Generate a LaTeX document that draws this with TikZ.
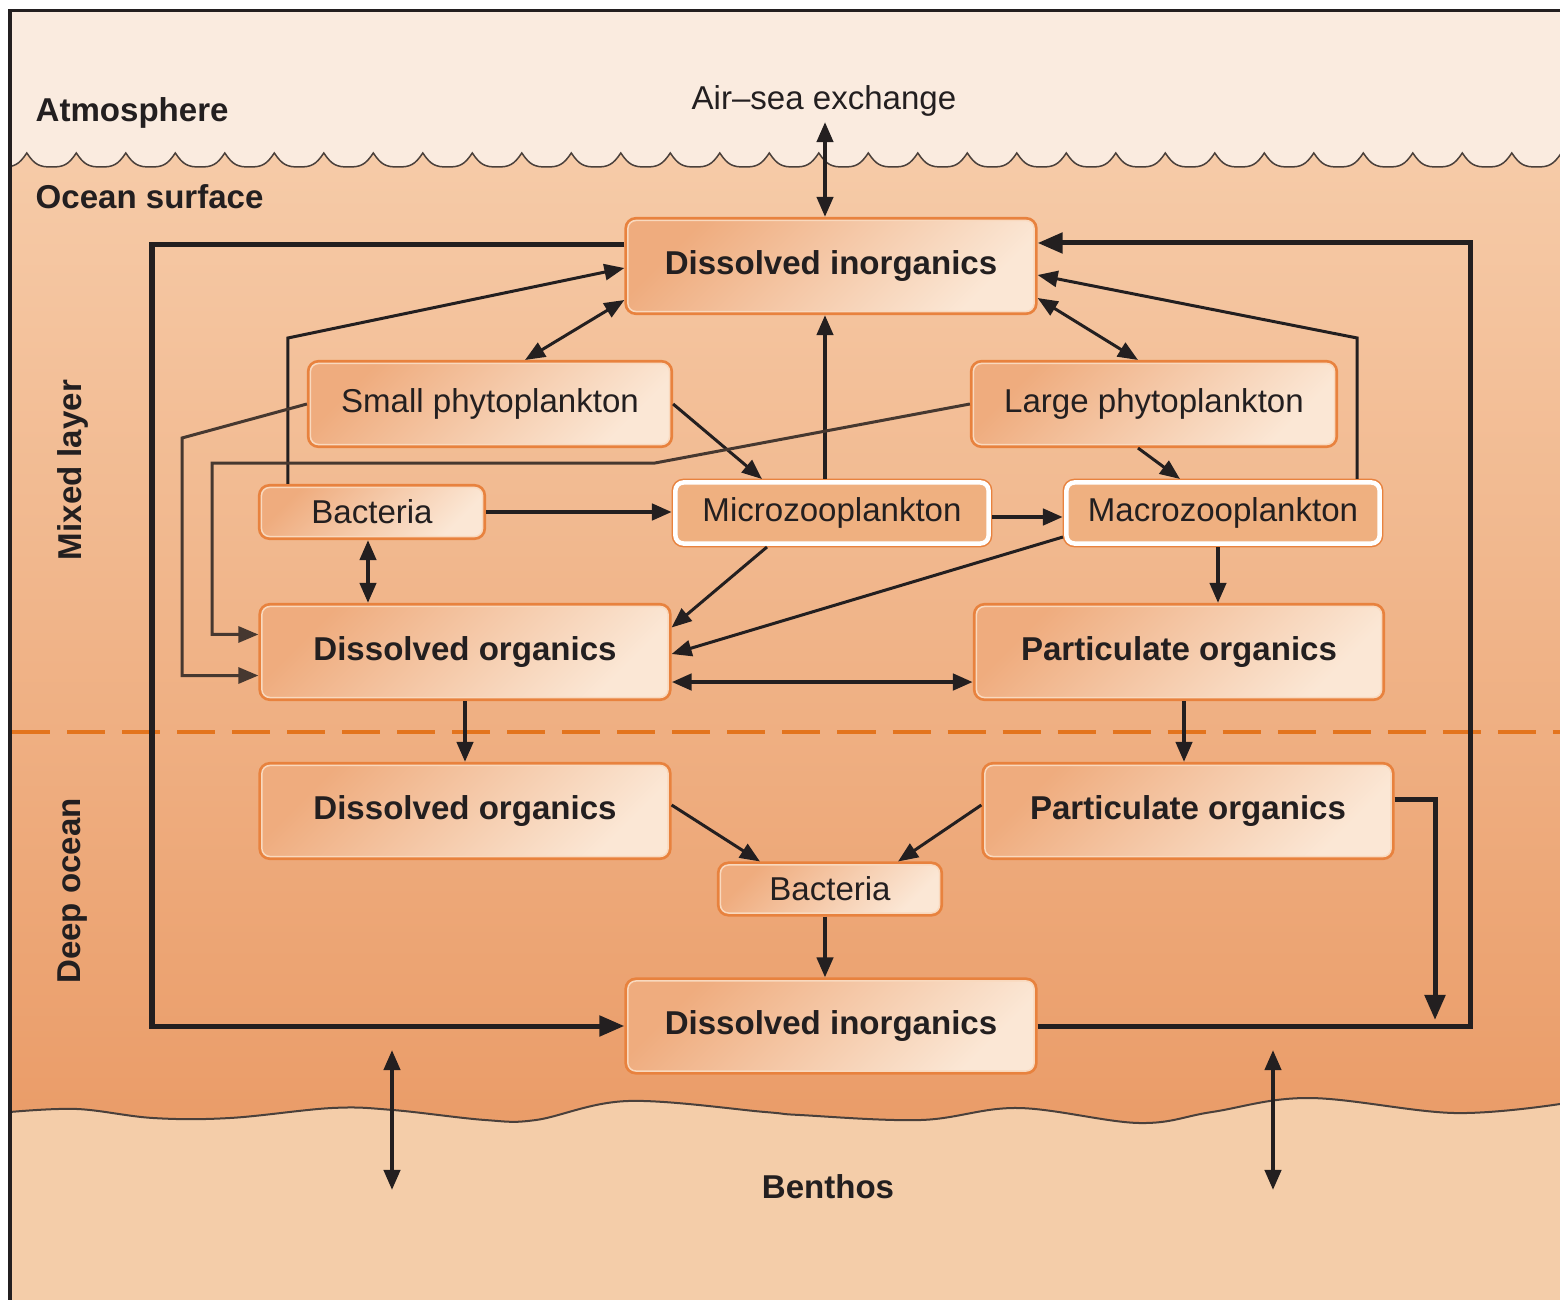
\documentclass[tikz,border=0pt]{standalone}
\usepackage{fontspec}
\setmainfont{Liberation Sans}
\usetikzlibrary{arrows.meta}

\definecolor{atmos}{HTML}{FAEBDF}
\definecolor{oceantop}{HTML}{F6CBA8}
\definecolor{oceanbot}{HTML}{EA9C68}
\definecolor{benthos}{HTML}{F4CDA9}
\definecolor{boxedge}{HTML}{E8823E}
\definecolor{boxring}{HTML}{F9D9BE}
\definecolor{boxdark}{HTML}{EFAC7E}
\definecolor{boxlight}{HTML}{FBE7D5}
\definecolor{zoofill}{HTML}{EFB080}
\definecolor{dashorange}{HTML}{E3741E}
\definecolor{ink}{HTML}{231F20}
\definecolor{waveline}{HTML}{4A403B}
\definecolor{brownline}{HTML}{463830}

\begin{document}
\fontsize{9.4pt}{11pt}\selectfont
\begin{tikzpicture}[x=0.01cm, y=-0.01cm,
    box/.style={rectangle, rounded corners=0.08cm, inner sep=0pt, outer sep=0.035cm,
      top color=boxdark, bottom color=boxlight, shading angle=45,
      draw=boxring, line width=0.015cm,
      preaction={draw=boxedge, line width=0.07cm}, text=ink},
    bigbox/.style={box, font=\bfseries, minimum width=4.06cm, minimum height=0.91cm},
    smallbox/.style={box, minimum height=0.81cm},
    zoo/.style={rectangle, rounded corners=0.08cm, inner sep=0pt, outer sep=0.035cm,
      fill=zoofill, draw=white, line width=0.045cm,
      preaction={draw=boxedge, line width=0.075cm}, text=ink,
      minimum width=3.13cm, minimum height=0.61cm},
    flow/.style={draw=ink, line width=0.03cm, >={Triangle[length=0.2cm, width=0.16cm]}},
    cycleline/.style={draw=ink, line width=0.05cm, >={Triangle[length=0.25cm, width=0.2cm]}},
    layer/.style={text=ink, font=\bfseries, inner sep=0pt}]
  \useasboundingbox (0,0) rectangle (1560,1300);
  \fill[white] (0,0) rectangle (1560,1300);

  % sea, air and sea floor
  \begin{scope}
    \clip (10,11) rectangle (1560,1300);
    \shade[top color=oceantop, bottom color=oceanbot] (0,150) rectangle (1600,1130);
    \filldraw[fill=atmos, draw=waveline, line width=0.015cm] (-22.7,-50) -- (-22.7,153)
      \foreach \k in {1,...,33} {
        .. controls +(8,12) and +(-12,0) .. ++(24.75,14)
        .. controls +(12,0) and +(-8,12) .. ++(24.75,-14)
      } -- (1610.8,-50) -- cycle;
    \filldraw[fill=benthos, draw=waveline, line width=0.02cm] (-50,1112) -- plot[smooth, tension=0.6]
      coordinates {(10,1112) (77,1109) (153,1118) (230,1118) (332,1108) (393,1110)
        (485,1120) (536,1120) (628,1101) (765,1112) (800,1115) (921,1120) (1018,1108)
        (1139,1123) (1212,1112) (1309,1098) (1454,1113) (1560,1104)}
      -- (1600,1104) -- (1600,1400) -- (-50,1400) -- cycle;
    \draw[dashorange, line width=0.04cm, dash pattern=on 0.38cm off 0.17cm] (12,732) -- (1600,732);
  \end{scope}
  \draw[ink, line width=0.03cm] (10,1300) -- (10,11) -- (1560,11);

  % layer names
  \node[layer, anchor=west] (atm) at (35,113) {Atmosphere};
  \node[layer, anchor=west] (surf) at (35,197) {Ocean surface};
  \node[layer, rotate=90] (mixed) at (73,470) {Mixed layer};
  \node[layer, rotate=90] (deep) at (73,891) {Deep ocean};
  \node[layer] (benth) at (828,1187) {Benthos};
  \node[text=ink] (air) at (824,101) {Air--sea exchange};

  % compartments
  \node[bigbox] (dit) at (831,266) {Dissolved inorganics};
  \node[smallbox, minimum width=3.59cm] (sph) at (490,404) {Small phytoplankton};
  \node[smallbox, minimum width=3.61cm] (lph) at (1154,404) {Large phytoplankton};
  \node[box, minimum width=2.21cm, minimum height=0.49cm] (bac) at (372,512) {Bacteria};
  \node[zoo] (mic) at (832,513) {Microzooplankton};
  \node[zoo] (mac) at (1223,513) {Macrozooplankton};
  \node[bigbox] (dom) at (465,652) {Dissolved organics};
  \node[bigbox, minimum width=4.05cm] (pom) at (1179,652) {Particulate organics};
  \node[bigbox] (dod) at (465,811) {Dissolved organics};
  \node[bigbox] (pod) at (1188,811) {Particulate organics};
  \node[box, minimum width=2.19cm, minimum height=0.48cm] (bad) at (830,889) {Bacteria};
  \node[bigbox, minimum height=0.9cm] (dib) at (831,1026) {Dissolved inorganics};

  % exchange with air
  \coordinate (airend) at (825,122);
  \draw[flow, line width=0.04cm, <->] (airend) -- (airend |- dit.north);

  % outer cycle between surface and deep
  \coordinate (lbend) at (152,600);
  \coordinate (rbend) at (1470,600);
  \coordinate (podend) at (1435,1020);
  \draw[cycleline, ->] ([yshift=0.21cm]dit.west) -| (lbend) |- (dib.west);
  \draw[cycleline, ->] (dib.east) -| (rbend) |- ([yshift=0.23cm]dit.east);
  \draw[cycleline, ->] ([yshift=0.11cm]pod.east) -| (podend);

  % mixed layer fluxes
  \draw[flow, ->] ([xshift=0.3cm]bac.north west) -- ++(0,-146) -- ([yshift=-0.02cm]dit.west);
  \draw[flow, <->] ([xshift=0.35cm]sph.north) -- ([yshift=-0.34cm]dit.west);
  \draw[flow, <->] ([yshift=-0.32cm]dit.east) -- ([xshift=-0.16cm]lph.north);
  \draw[flow, ->] ([xshift=-0.26cm]mac.north east) -- ++(0,-141) -- ([yshift=-0.09cm]dit.east);
  \draw[flow, line width=0.04cm, ->] ([xshift=-0.07cm]mic.north) -- ([xshift=-0.07cm]mic.north |- dit.south);
  \draw[flow, ->] (sph.east) -- ([xshift=-0.7cm]mic.north);
  \draw[flow, ->] ([xshift=-0.16cm]lph.south) -- ([xshift=-0.43cm]mac.north);
  \draw[flow, line width=0.045cm, ->] (bac.east) -- (bac.east -| mic.west);
  \draw[flow, line width=0.045cm, ->] ([yshift=-0.04cm]mic.east) -- ([yshift=-0.04cm]mic.east -| mac.west);
  \draw[flow, line width=0.04cm, <->] ([xshift=-0.04cm]bac.south) -- ([xshift=-0.04cm]bac.south |- dom.north);
  \draw[flow, ->] ([xshift=-0.65cm]mic.south) -- ([yshift=0.245cm]dom.east);
  \draw[flow, ->] ([yshift=-0.24cm]mac.west) -- ([yshift=-0.02cm]dom.east);
  \draw[flow, line width=0.045cm, <->] ([yshift=-0.3cm]dom.east) -- ([yshift=-0.3cm]dom.east -| pom.west);
  \draw[flow, line width=0.04cm, ->] ([xshift=-0.05cm]mac.south) -- ([xshift=-0.05cm]mac.south |- pom.north);
  \draw[flow, draw=brownline, ->] (lph.west) -- (655,463) -- (212,463) |- ([yshift=0.175cm]dom.west);
  \draw[flow, draw=brownline, ->] (sph.west) -- (182,438) |- ([yshift=-0.235cm]dom.west);

  % sinking and deep remineralisation
  \draw[flow, line width=0.04cm, ->] (dom.south) -- (dom.south |- dod.north);
  \draw[flow, line width=0.04cm, ->] ([xshift=0.05cm]pom.south) -- ([xshift=0.05cm]pom.south |- pod.north);
  \draw[flow, ->] ([yshift=0.06cm]dod.east) -- ([xshift=-0.7cm]bad.north);
  \draw[flow, ->] ([yshift=0.06cm]pod.west) -- ([xshift=0.68cm]bad.north);
  \draw[flow, line width=0.04cm, ->] ([xshift=-0.05cm]bad.south) -- ([xshift=-0.05cm]bad.south |- dib.north);

  % exchange with the sea floor
  \coordinate (benl) at (392,1050);
  \coordinate (benlb) at (392,1190);
  \coordinate (benr) at (1273,1050);
  \coordinate (benrb) at (1273,1190);
  \draw[flow, line width=0.04cm, <->] (benl) -- (benlb);
  \draw[flow, line width=0.04cm, <->] (benr) -- (benrb);
\end{tikzpicture}
\end{document}
